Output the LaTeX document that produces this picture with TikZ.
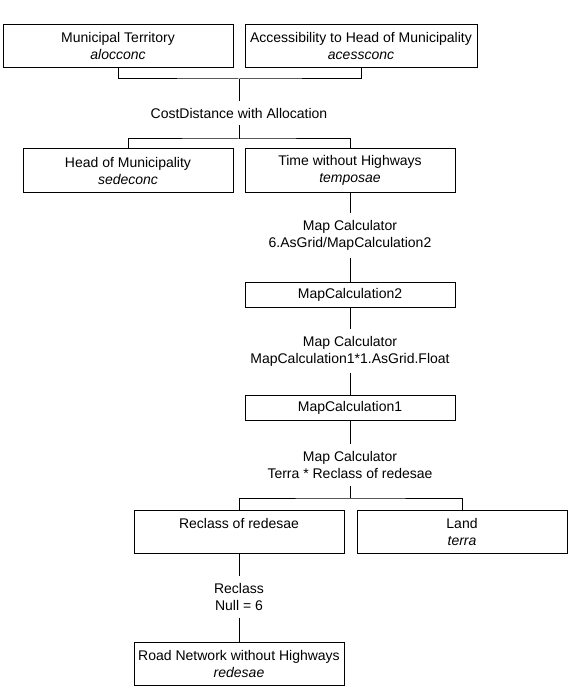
\documentclass[tikz,border=0pt]{standalone}
\usepackage{fontspec}
\setmainfont{Liberation Sans}

\begin{document}
\begin{tikzpicture}[x=1pt,y=-1pt,
    font=\fontsize{14}{17}\selectfont,
    layer/.style={draw,line width=1pt,minimum width=210pt,minimum height=43pt,
        align=center,inner sep=0pt},
    calcbox/.style={layer,minimum height=25pt},
    tool/.style={align=center,inner xsep=2pt,inner ysep=7pt},
    link/.style={line width=1pt}]
    \useasboundingbox (0,0) rectangle (568,687);

    \node[layer,minimum width=230pt] (terr) at (118,46)
        {Municipal Territory\\{\itshape alocconc}};
    \node[layer,minimum width=232pt] (acc) at (361,46)
        {Accessibility to Head of Municipality\\{\itshape acessconc}};
    \node[tool] (costdist) at (239,113) {CostDistance with Allocation};
    \node[layer] (sede) at (128,170.5)
        {Head of Municipality\\{\itshape sedeconc}};
    \node[layer] (tempo) at (350,170.5)
        {Time without Highways\\{\itshape temposae}};

    \node[tool] (calcA) at (350,235.5)
        {Map Calculator\\6.AsGrid/MapCalculation2};
    \node[calcbox] (mc2) at (350,294.5) {MapCalculation2};
    \node[tool] (calcB) at (350,351)
        {Map Calculator\\MapCalculation1*1.AsGrid.Float};
    \node[calcbox] (mc1) at (350,407.5) {MapCalculation1};
    \node[tool] (calcC) at (350,465)
        {Map Calculator\\Terra * Reclass of redesae};

    \node[layer] (recl) at (239,531.5) {Reclass of redesae\\~};
    \node[layer] (terra) at (462,531.5) {Land\\{\itshape terra}};
    \node[tool] (reclop) at (239,597) {Reclass\\Null = 6};
    \node[layer] (rede) at (239,663.5)
        {Road Network without Highways\\{\itshape redesae}};

    \coordinate (j1) at (239,79);
    \coordinate (j2) at (239,139);
    \coordinate (j3) at (350,498);

    \draw[link] (terr.south) |- (j1) -| (acc.south);
    \draw[link] (j1) -- (costdist.north);
    \draw[link] (costdist.south) -- (j2);
    \draw[link] (sede.north) |- (j2) -| (tempo.north);
    \draw[link] (tempo.south) -- (calcA.north);
    \draw[link] (calcA.south) -- (mc2.north);
    \draw[link] (mc2.south) -- (calcB.north);
    \draw[link] (calcB.south) -- (mc1.north);
    \draw[link] (mc1.south) -- (calcC.north);
    \draw[link] (calcC.south) -- (j3);
    \draw[link] (recl.north) |- (j3) -| (terra.north);
    \draw[link] (recl.south) -- (reclop.north);
    \draw[link] (reclop.south) -- (rede.north);
\end{tikzpicture}
\end{document}
